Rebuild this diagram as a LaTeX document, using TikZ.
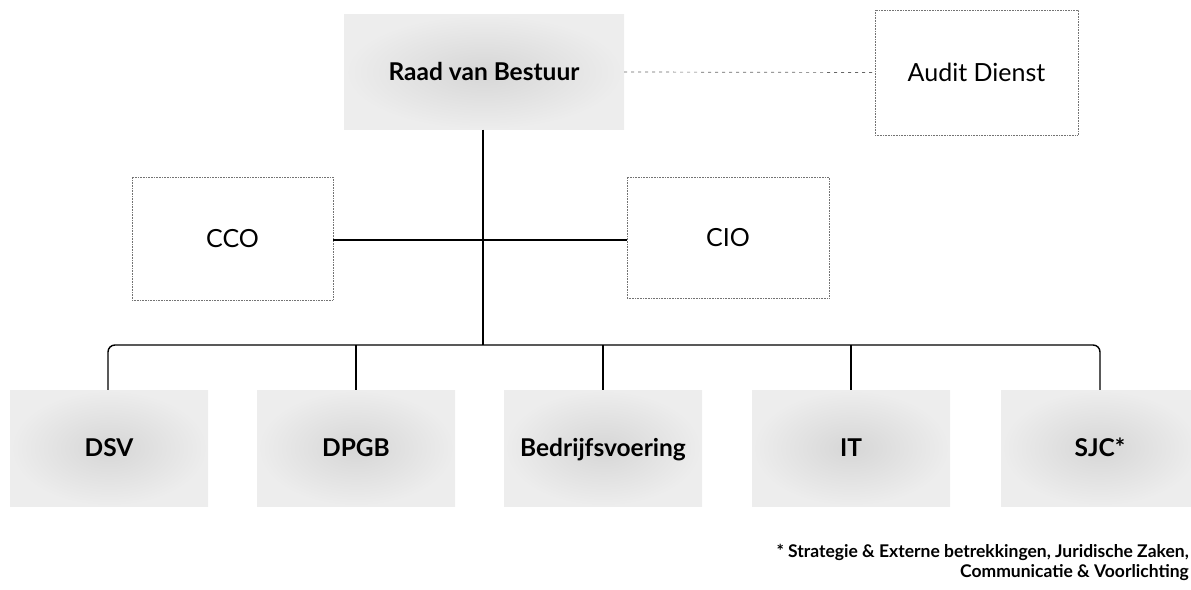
\documentclass[tikz,border=0pt]{standalone}
\usepackage{fontspec}
\setmainfont{Lato}
\begin{document}
\begin{tikzpicture}[x=1pt,y=-1pt,
  stip/.style={shading=radial, inner color=black!16, outer color=black!7, draw=none, inner sep=0pt, text height=19pt, text depth=2pt, font=\bfseries\fontsize{24.5}{28}\selectfont},
  dbox/.style={draw=black!55, densely dotted, line width=0.6pt, inner sep=0pt, text height=19pt, text depth=2pt, font=\fontsize{25}{29}\selectfont},
  conn/.style={line width=1.9pt, black},
  thinconn/.style={line width=1.4pt, black},
  dashconn/.style={draw=black!60, line width=0.7pt, dash pattern=on 3pt off 4pt}]
\useasboundingbox (0,0) rectangle (1191,589);
% top level
\node[stip, minimum width=280pt, minimum height=115pt] (rvb) at (484,72) {Raad van Bestuur};
\node[dbox, minimum width=203pt, minimum height=125pt] (audit) at (976.5,72.5) {Audit Dienst};
% staff
\node[dbox, minimum width=201pt, minimum height=123pt] (cco) at (232.5,238.5) {CCO};
\node[dbox, minimum width=202pt, minimum height=121pt] (cio) at (728,237.5) {CIO};
% bottom
\node[stip, minimum width=198pt, minimum height=116pt] (dsv) at (109,448) {DSV};
\node[stip, minimum width=198pt, minimum height=116pt] (dpgb) at (356,448) {DPGB};
\node[stip, minimum width=198pt, minimum height=116pt] (bv) at (603,448) {Bedrijfsvoering};
\node[stip, minimum width=198pt, minimum height=116pt] (it) at (851,448) {IT};
\node[stip, minimum width=198pt, minimum height=116pt] (sjc) at (1100,448) {SJC*};
\coordinate (bus) at (483,345);
% connectors
\draw[dashconn] (rvb.east) -- (audit.west);
\draw[conn] (rvb.south -| bus) -- (bus);
\draw[thinconn] (cco.east |- 0,240) -- (cio.west |- 0,240);
\draw[thinconn, rounded corners=7pt] (dsv.north) ++(-1,0) |- (bus) -| (sjc.north);
\draw[thinconn] (dpgb.north) -- (dpgb.north |- bus);
\draw[thinconn] (bv.north) -- (bv.north |- bus);
\draw[thinconn] (it.north) -- (it.north |- bus);
% footnote
\node[anchor=north east, align=right, inner sep=0pt, font=\bfseries\fontsize{17.5}{20.5}\selectfont] (fn) at (1189,544)
  {* Strategie \& Externe betrekkingen, Juridische Zaken,\\ Communicatie \& Voorlichting};
\end{tikzpicture}
\end{document}
